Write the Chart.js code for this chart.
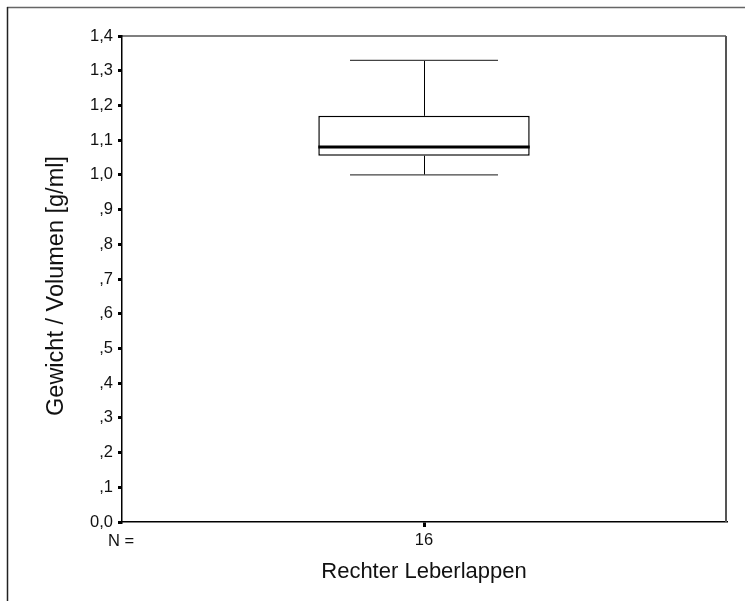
<!DOCTYPE html>
<html>
<head>
<meta charset="utf-8">
<script src="https://cdn.jsdelivr.net/npm/chart.js@4/dist/chart.umd.min.js"></script>
<style>
html,body{margin:0;padding:0;background:#fff;}
#wrap{width:745px;height:601px;position:relative;}
</style>
</head>
<body>
<div id="wrap"><canvas id="c" width="745" height="601"></canvas></div>
<script>
const categories = ['Rechter Leberlappen'];
const nValues = [16];
const whiskerLow = [1.00];
const q1 = [1.055];
const median = [1.08];
const q3 = [1.17];
const whiskerHigh = [1.33];
const yTickLabels = ['0,0', ',1', ',2', ',3', ',4', ',5', ',6', ',7', ',8', ',9', '1,0', '1,1', '1,2', '1,3', '1,4'];
const yTitle = 'Gewicht / Volumen [g/ml]';
const xTitle = 'Rechter Leberlappen';

const FONT = '"Liberation Sans", Arial, sans-serif';

const boxPlugin = {
  id: 'boxExtras',
  beforeDraw(chart) {
    const ctx = chart.ctx;
    ctx.save();
    ctx.fillStyle = '#fff';
    ctx.fillRect(0, 0, chart.width, chart.height);
    ctx.lineWidth = 1.5;
    ctx.strokeStyle = '#666';
    ctx.beginPath();
    ctx.moveTo(7, 7.5); ctx.lineTo(chart.width, 7.5);
    ctx.stroke();
    ctx.strokeStyle = '#222';
    ctx.beginPath();
    ctx.moveTo(7.5, 7); ctx.lineTo(7.5, chart.height);
    ctx.stroke();
    ctx.restore();
  },
  afterDatasetsDraw(chart) {
    const ctx = chart.ctx;
    const xs = chart.scales.x, ys = chart.scales.y;
    const meta = chart.getDatasetMeta(0);
    ctx.save();
    categories.forEach((c, i) => {
      const bar = meta.data[i];
      const cx = xs.getPixelForValue(i);
      const w = bar.width;
      const capHalf = w * 0.35;
      const half = w / 2;
      const yLo = ys.getPixelForValue(whiskerLow[i]);
      const yHi = ys.getPixelForValue(whiskerHigh[i]);
      const yQ1 = ys.getPixelForValue(q1[i]);
      const yQ3 = ys.getPixelForValue(q3[i]);
      const yMed = ys.getPixelForValue(median[i]);
      ctx.strokeStyle = '#000';
      ctx.lineWidth = 1;
      ctx.beginPath();
      ctx.moveTo(Math.round(cx) + 0.5, yQ3); ctx.lineTo(Math.round(cx) + 0.5, yHi);
      ctx.moveTo(Math.round(cx) + 0.5, yQ1); ctx.lineTo(Math.round(cx) + 0.5, yLo);
      ctx.stroke();
      ctx.strokeStyle = '#444';
      ctx.lineWidth = 1.2;
      ctx.beginPath();
      ctx.moveTo(cx - capHalf, yHi); ctx.lineTo(cx + capHalf, yHi);
      ctx.moveTo(cx - capHalf, yLo); ctx.lineTo(cx + capHalf, yLo);
      ctx.stroke();
      ctx.strokeStyle = '#000';
      ctx.lineWidth = 3;
      ctx.beginPath();
      ctx.moveTo(cx - half, yMed); ctx.lineTo(cx + half, yMed);
      ctx.stroke();
    });
    const a = chart.chartArea;
    ctx.strokeStyle = '#000';
    ctx.lineWidth = 1.2;
    ctx.beginPath();
    ctx.moveTo(a.left, a.top); ctx.lineTo(a.right, a.top);
    ctx.stroke();
    ctx.strokeStyle = '#555';
    ctx.lineWidth = 2;
    ctx.beginPath();
    ctx.moveTo(a.right, a.top); ctx.lineTo(a.right, a.bottom);
    ctx.stroke();
    ctx.fillStyle = '#111';
    ctx.font = '16.5px ' + FONT;
    ctx.textAlign = 'left';
    ctx.textBaseline = 'middle';
    ctx.fillText('N =', 108, xs.top + 19);
    // y axis title
    ctx.save();
    ctx.translate(57, 286);
    ctx.rotate(-Math.PI / 2);
    ctx.font = '23.5px ' + FONT;
    ctx.textAlign = 'center';
    ctx.textBaseline = 'middle';
    ctx.fillText(yTitle, 0, 0);
    ctx.restore();
    ctx.restore();
  }
};

new Chart(document.getElementById('c'), {
  type: 'bar',
  data: {
    labels: categories,
    datasets: [{
      data: categories.map((c, i) => [q1[i], q3[i]]),
      backgroundColor: '#fff',
      borderColor: '#000',
      borderWidth: 1.5,
      borderSkipped: false,
      barPercentage: 0.35,
      categoryPercentage: 1.0
    }]
  },
  options: {
    responsive: false,
    animation: false,
    devicePixelRatio: 1,
    layout: { padding: { top: 36, right: 19, left: 0, bottom: 0 } },
    plugins: { legend: { display: false }, tooltip: { enabled: false } },
    scales: {
      x: {
        afterFit(s) { s.height = 79; },
        grid: { display: true, drawOnChartArea: false, drawTicks: true, tickLength: 5, lineWidth: 3, color: '#000', offset: false },
        border: { display: true, color: '#000', width: 1.5 },
        ticks: {
          color: '#111', padding: 4,
          font: { family: FONT, size: 16.5 },
          callback: (v, i) => String(nValues[i])
        },
        title: {
          display: true, text: xTitle, color: '#111',
          font: { family: FONT, size: 22 },
          padding: { top: 0, bottom: 16 }
        }
      },
      y: {
        min: 0, max: 1.4,
        afterFit(s) { s.width = 122; },
        grid: { display: true, drawOnChartArea: false, drawTicks: true, tickLength: 4, lineWidth: 3, color: '#000' },
        border: { display: true, color: '#000', width: 1.5 },
        ticks: {
          stepSize: 0.1, color: '#111', padding: 5,
          font: { family: FONT, size: 16.5 },
          callback: (v, i) => yTickLabels[i]
        },
        title: { display: false }
      }
    }
  },
  plugins: [boxPlugin]
});
</script>
</body>
</html>
